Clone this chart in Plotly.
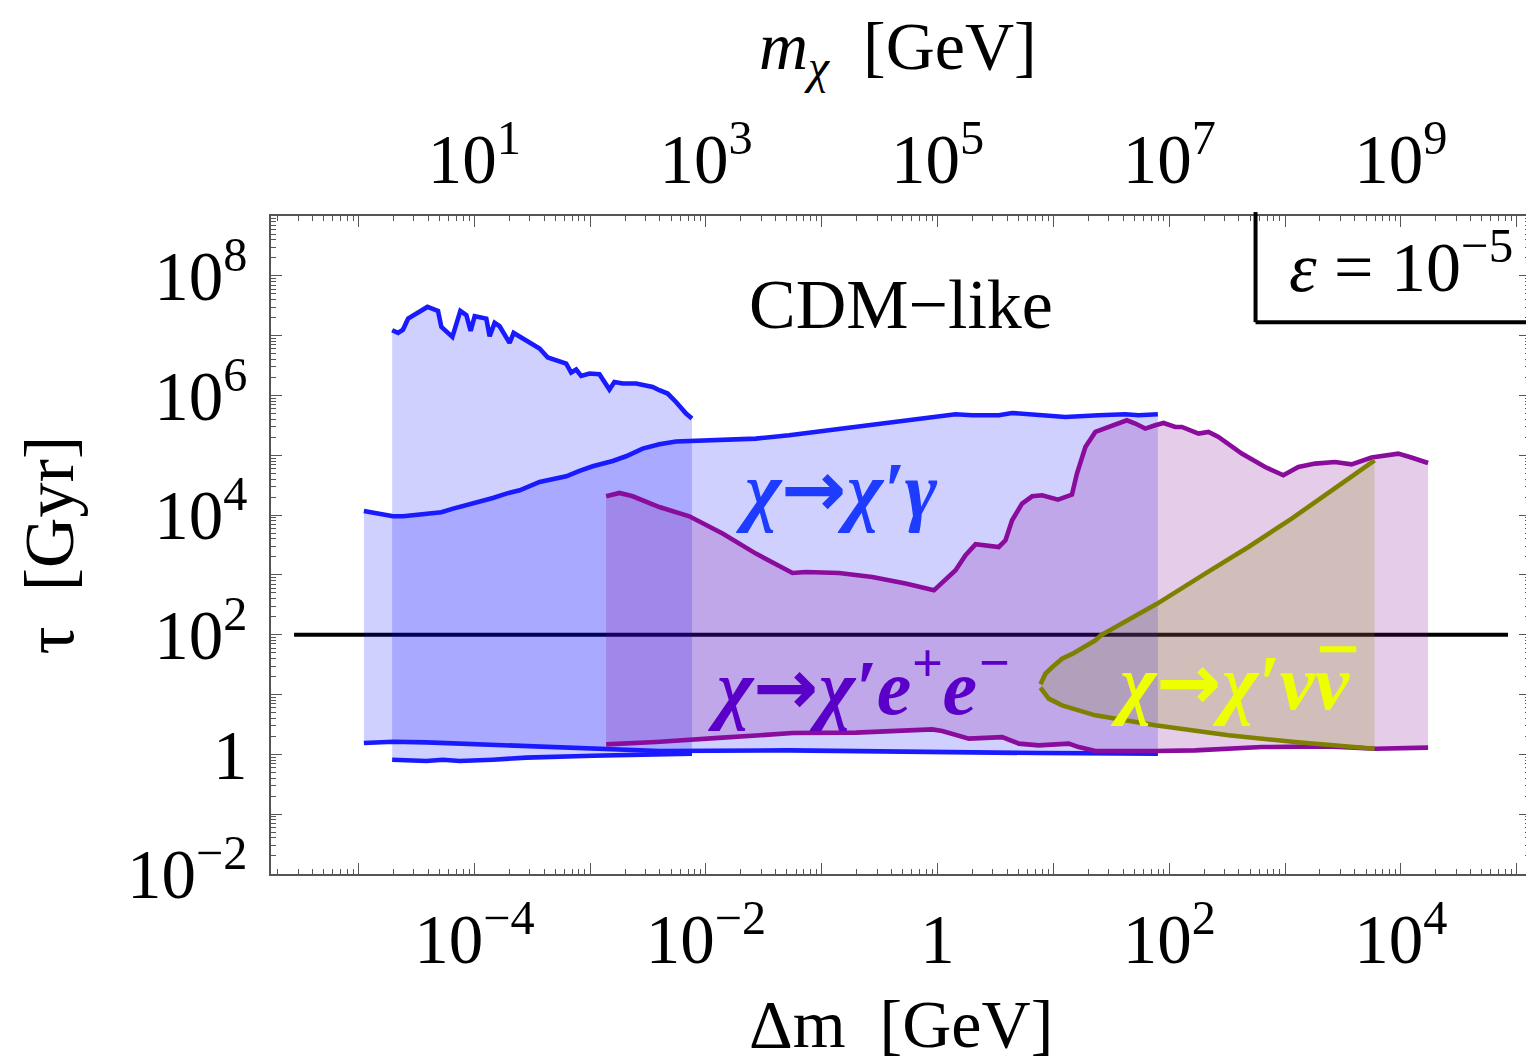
import numpy as np
import plotly.graph_objects as go

# ---------------- data: log10(Δm / GeV) and log10(τ / Gyr) ----------------
# χ -> χ' γ  (light branch, jagged upper edge)
gamB_hi_lgdm = [-4.710, -4.659, -4.616, -4.572, -4.500, -4.405, -4.314, -4.285, -4.190, -4.121,
                -4.069, -4.032, -3.997, -3.897, -3.868, -3.825, -3.782, -3.696, -3.661, -3.552,
                -3.437, -3.366, -3.207, -3.164, -3.121, -3.078, -3.006, -2.920, -2.834, -2.791,
                -2.719, -2.603, -2.460, -2.403, -2.331, -2.259, -2.172, -2.121]
gamB_hi_lgtau = [7.090, 7.045, 7.101, 7.285, 7.369, 7.480, 7.413, 7.146, 6.979, 7.413,
                 7.341, 7.079, 7.324, 7.285, 6.990, 7.213, 7.157, 6.878, 7.045, 6.923,
                 6.784, 6.634, 6.533, 6.383, 6.433, 6.326, 6.366, 6.355, 6.099, 6.226,
                 6.199, 6.199, 6.142, 6.087, 6.032, 5.891, 5.697, 5.614]
gamB_lo_lgdm = [-4.710, -4.414, -4.271, -4.127, -3.840, -3.552, -2.978, -2.403, -2.121]
gamB_lo_lgtau = [-0.089, -0.112, -0.089, -0.112, -0.089, -0.055, -0.022, 0.012, 0.012]

# χ -> χ' γ  (main branch)
gamA_hi_lgdm = [-4.954, -4.845, -4.702, -4.616, -4.472, -4.285, -4.184, -4.012, -3.840, -3.724,
                -3.609, -3.437, -3.322, -3.207, -3.092, -2.978, -2.805, -2.690, -2.547, -2.403,
                -2.259, -2.144, -1.857, -1.569, -1.282, -0.995, -0.707, -0.420, -0.133, 0.155,
                0.298, 0.528, 0.643, 0.816, 1.103, 1.391, 1.621, 1.735, 1.902]
gamA_hi_lgtau = [4.069, 4.025, 3.980, 3.980, 4.013, 4.047, 4.108, 4.192, 4.286, 4.359,
                 4.415, 4.554, 4.610, 4.649, 4.738, 4.816, 4.905, 4.983, 5.112, 5.184,
                 5.229, 5.239, 5.251, 5.279, 5.334, 5.406, 5.485, 5.557, 5.614, 5.686,
                 5.669, 5.669, 5.707, 5.686, 5.640, 5.669, 5.686, 5.669, 5.686]
gamA_lo_lgdm = [-4.954, -4.702, -4.414, -4.127, -3.552, -2.978, -2.403, -1.284, -0.133, 0.873, 1.902]
gamA_lo_lgtau = [0.189, 0.212, 0.201, 0.179, 0.134, 0.095, 0.055, 0.067, 0.038, 0.022, 0.012]

# χ -> χ' e+ e-
ee_hi_lgdm = [-2.862, -2.747, -2.633, -2.403, -2.144, -1.857, -1.569, -1.253, -1.138, -0.851,
              -0.564, -0.276, -0.032, 0.155, 0.241, 0.328, 0.528, 0.586, 0.643, 0.729,
              0.816, 0.902, 1.040, 1.160, 1.203, 1.276, 1.362, 1.448, 1.534, 1.634,
              1.707, 1.793, 1.879, 1.951, 2.052, 2.109, 2.253, 2.339, 2.425, 2.626,
              2.828, 2.985, 3.115, 3.259, 3.431, 3.574, 3.747, 3.977, 4.091, 4.235]
ee_hi_lgtau = [4.314, 4.370, 4.314, 4.135, 3.980, 3.691, 3.356, 3.032, 3.048, 3.032,
               2.965, 2.855, 2.742, 3.077, 3.328, 3.512, 3.467, 3.579, 3.913, 4.192,
               4.314, 4.331, 4.259, 4.343, 4.694, 5.139, 5.390, 5.446, 5.502, 5.585,
               5.530, 5.446, 5.502, 5.540, 5.473, 5.473, 5.363, 5.390, 5.306, 5.028,
               4.804, 4.666, 4.804, 4.861, 4.888, 4.849, 4.962, 5.028, 4.962, 4.871]
ee_lo_lgdm = [-2.862, -2.431, -1.857, -1.253, -0.707, -0.047, 0.040, 0.270, 0.557, 0.701,
              0.873, 1.132, 1.218, 1.362, 1.879, 2.224, 2.798, 3.373, 3.776, 4.235]
ee_lo_lgtau = [0.167, 0.206, 0.279, 0.356, 0.363, 0.418, 0.390, 0.263, 0.289, 0.179,
               0.151, 0.179, 0.122, 0.055, 0.055, 0.067, 0.122, 0.134, 0.095, 0.112]

# χ -> χ' ν ν̄
nu_hi_lgdm = [0.888, 0.931, 0.991, 1.074, 1.166, 1.362, 1.409, 1.897, 2.310, 2.684, 3.057, 3.402, 3.546, 3.773]
nu_hi_lgtau = [1.171, 1.349, 1.460, 1.600, 1.684, 1.906, 1.990, 2.520, 3.022, 3.467, 3.941, 4.415, 4.610, 4.916]
nu_lo_lgdm = [0.888, 0.959, 1.074, 1.362, 1.879, 2.511, 3.086, 3.773]
nu_lo_lgtau = [1.115, 0.931, 0.819, 0.652, 0.485, 0.318, 0.206, 0.095]

# reference lifetime line
ref_lgdm = [-5.557, 4.925]
ref_tau = 100.0

# axes
x_range_lg = [-5.756, 5.115]
y_range_lg = [-2, 9]
eps_lg = -5  # m_chi = Δm / ε
x_dec = list(range(-5, 6))
y_dec = list(range(-2, 10))
m_dec = list(range(0, 11))

SERIF = "Liberation Serif"
BLUE, BLUE_F = "#1a1aff", "rgba(0,0,255,0.185)"
PURP, PURP_F = "#8a0c9c", "rgba(125,5,150,0.2)"
OLIV, OLIV_F = "#808000", "rgba(128,128,0,0.2)"
LW = 4.6


def p(v):
    return 10 ** np.asarray(v, dtype=float)


def poly(hx, hy, lx, ly):
    return (np.concatenate([p(hx), p(lx)[::-1]]), np.concatenate([p(hy), p(ly)[::-1]]))


fig = go.Figure()

# reference line (under fills)
fig.add_trace(go.Scatter(x=p(ref_lgdm), y=[ref_tau, ref_tau], mode="lines",
                         line=dict(color="black", width=4), hoverinfo="skip", showlegend=False))

for hx, hy, lx, ly, fc in [
    (gamA_hi_lgdm, gamA_hi_lgtau, gamA_lo_lgdm, gamA_lo_lgtau, BLUE_F),
    (gamB_hi_lgdm, gamB_hi_lgtau, gamB_lo_lgdm, gamB_lo_lgtau, BLUE_F),
    (ee_hi_lgdm, ee_hi_lgtau, ee_lo_lgdm, ee_lo_lgtau, PURP_F),
    (nu_hi_lgdm, nu_hi_lgtau, nu_lo_lgdm, nu_lo_lgtau, OLIV_F),
]:
    px, py = poly(hx, hy, lx, ly)
    fig.add_trace(go.Scatter(x=px, y=py, mode="lines", fill="toself", fillcolor=fc,
                             line=dict(width=0), hoverinfo="skip", showlegend=False))

for cx, cy, col in [
    (gamA_hi_lgdm, gamA_hi_lgtau, BLUE), (gamA_lo_lgdm, gamA_lo_lgtau, BLUE),
    (gamB_hi_lgdm, gamB_hi_lgtau, BLUE), (gamB_lo_lgdm, gamB_lo_lgtau, BLUE),
    (ee_hi_lgdm, ee_hi_lgtau, PURP), (ee_lo_lgdm, ee_lo_lgtau, PURP),
    (nu_hi_lgdm, nu_hi_lgtau, OLIV), (nu_lo_lgdm, nu_lo_lgtau, OLIV),
]:
    fig.add_trace(go.Scatter(x=p(cx), y=p(cy), mode="lines",
                             line=dict(color=col, width=LW, shape="linear"),
                             hoverinfo="skip", showlegend=False))

# invisible trace on top (m_chi) axis
fig.add_trace(go.Scatter(x=p(np.array(ref_lgdm) - eps_lg), y=[ref_tau, ref_tau], xaxis="x2",
                         mode="lines", line=dict(width=0), opacity=0, hoverinfo="skip", showlegend=False))


def lab(e):
    if e == 0:
        return "1"
    s = str(e).replace("-", "\u2212")
    return "10<sup>" + s + "</sup>"


def minor_vals(decs):
    return [k * 10.0 ** d for d in range(decs[0] - 1, decs[-1] + 1) for k in range(2, 10)]


tickfont = dict(family=SERIF, size=69, color="black")
axcommon = dict(type="log", showgrid=False, zeroline=False, ticks="inside", ticklen=11,
                tickwidth=1.3, tickcolor="#555", showline=True, linecolor="#555", linewidth=1.5,
                tickfont=tickfont, tickmode="array")
minor = dict(ticks="inside", ticklen=5, tickwidth=1.1, tickcolor="#555", showgrid=False,
             tickmode="array")

# page body has an 8px margin: shift the figure box accordingly
fig.update_layout(
    width=1526, height=1056,
    margin=dict(l=263, r=2, t=208, b=190),
    paper_bgcolor="white", plot_bgcolor="white",
    xaxis=dict(axcommon, range=x_range_lg, tickvals=p(x_dec),
               ticktext=[lab(e) if e % 2 == 0 else "" for e in x_dec],
               minor=dict(minor, tickvals=minor_vals(x_dec)), mirror=True, ticklabelstandoff=4),
    xaxis2=dict(axcommon, range=[x_range_lg[0] - eps_lg, x_range_lg[1] - eps_lg],
                overlaying="x", side="top", anchor="y", tickvals=p(m_dec),
                ticktext=[lab(e) if e % 2 == 1 else "" for e in m_dec],
                minor=dict(minor, tickvals=minor_vals(m_dec)), ticklabelstandoff=4),
    yaxis=dict(axcommon, range=y_range_lg, tickvals=p(y_dec),
               ticktext=[lab(e) if e % 2 == 0 else "" for e in y_dec],
               minor=dict(minor, tickvals=minor_vals(y_dec)), mirror="ticks", ticklabelstandoff=8),
    font=dict(family=SERIF, color="black"),
)

ARROW = '<span style="font-family:\'DejaVu Sans\'">→</span>'
ann = [
    dict(x=0.498, y=1.252, text="<i>m</i><sub><i>χ</i></sub>\u00a0\u00a0[GeV]", font=dict(size=68)),
    dict(x=0.500, y=-0.228, text="Δm\u00a0\u00a0[GeV]", font=dict(size=68)),
    dict(x=-0.176, y=0.500, text="τ\u00a0\u00a0[Gyr]", font=dict(size=70), textangle=-90),
    dict(x=0.5004, y=0.865, text="CDM\u2212like", font=dict(size=70)),
    dict(x=0.4496, y=0.585, text="<b><i>χ" + ARROW + "χ′γ</i></b>", font=dict(size=78, color="#1e3cff")),
    dict(x=0.4671, y=0.292, text="<b><i>χ" + ARROW + "χ′e<sup>+</sup>e<sup>\u2212</sup></i></b>",
         font=dict(size=78, color="#5a00c8")),
    dict(x=0.7621, y=0.292, text="<b><i>χ" + ARROW + "χ′νν</i></b>", font=dict(size=78, color="#eeff00")),
    dict(x=0.8977, y=0.930, text="<i>ε</i> = 10<sup>\u22125</sup>", font=dict(size=70)),
]
for a in ann:
    a.update(xref="paper", yref="paper", showarrow=False, xanchor="center", yanchor="middle")
    a["font"] = dict(dict(family=SERIF, color="black"), **a["font"])
fig.update_layout(annotations=ann)

# overbar on the antineutrino
fig.add_shape(type="line", xref="paper", yref="paper", x0=0.833, x1=0.862, y0=0.3414, y1=0.3414,
              line=dict(color="#eeff00", width=6))

# ε box (left and bottom edges)
box_x0, box_y0 = 0.782, 0.8386
fig.add_shape(type="line", xref="paper", yref="paper", x0=box_x0, x1=box_x0, y0=box_y0, y1=1.006,
              line=dict(color="black", width=4))
fig.add_shape(type="line", xref="paper", yref="paper", x0=box_x0, x1=1.0, y0=box_y0, y1=box_y0,
              line=dict(color="black", width=4))

fig.write_html("out.html")
